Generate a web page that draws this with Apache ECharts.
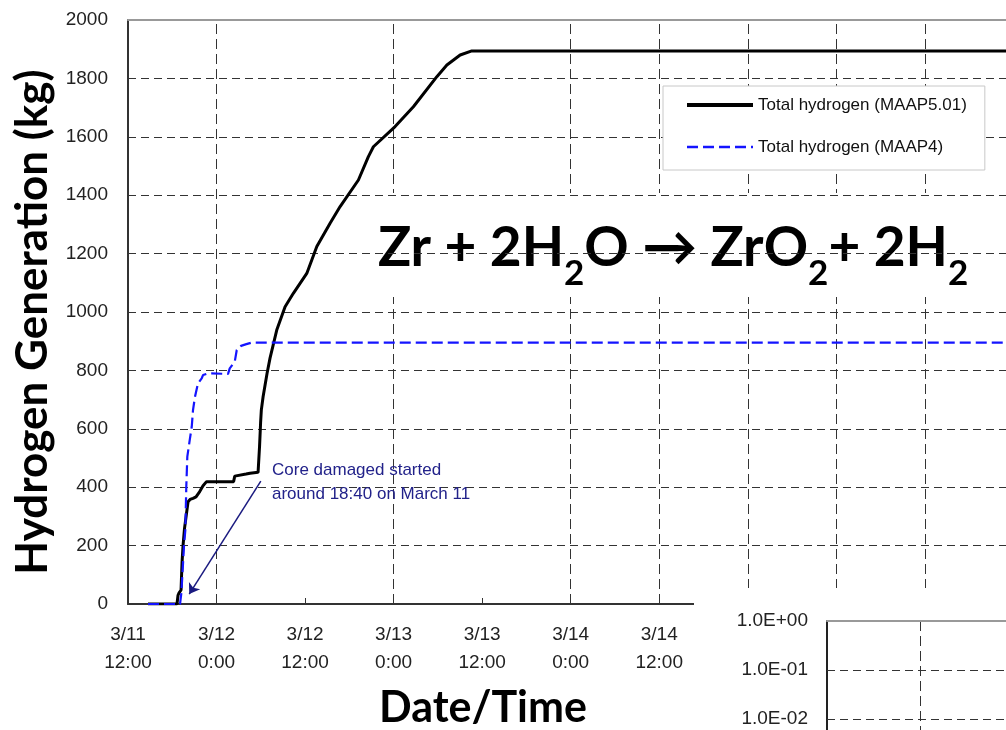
<!DOCTYPE html>
<html><head><meta charset="utf-8">
<script src="https://cdn.jsdelivr.net/npm/echarts@6/dist/echarts.min.js"></script>
<style>html,body{margin:0;padding:0;background:#fff}#c{width:1006px;height:730px}</style>
</head><body><div id="c"></div>
<script>
// ---- data (hours after 3/11 12:00, hydrogen kg) ----
const seriesNames = ['Total hydrogen (MAAP5.01)', 'Total hydrogen (MAAP4)'];
const hoursMAAP5 = [2.71, 6.64, 6.78, 6.92, 7.19, 7.32, 7.46, 7.66, 7.86, 8.14, 8.41, 8.81, 9.22, 9.72, 10.17, 10.64, 14.31, 14.47, 14.64, 16.0, 16.54, 17.63, 17.83, 17.97, 18.07, 18.31, 18.58, 18.85, 19.25, 20.16, 21.29, 22.41, 24.23, 25.59, 27.39, 28.75, 31.23, 32.58, 33.26, 36.2, 38.68, 41.86, 43.22, 45.02, 46.6, 119];
const kgMAAP5 = [0, 0, 30, 38, 48, 140, 200, 259, 262, 350, 358, 362, 367, 385, 405, 419, 419, 438, 442, 445, 448, 451, 540, 620, 664, 710, 750, 790, 842, 938, 1018, 1064, 1132, 1224, 1304, 1361, 1452, 1532, 1566, 1635, 1703, 1806, 1846, 1880, 1894, 1894];
const hoursMAAP4 = [2.71, 7.05, 7.23, 7.46, 7.59, 7.77, 7.9, 8.04, 8.37, 8.64, 8.81, 9.08, 9.49, 9.99, 10.17, 10.85, 13.56, 13.79, 14.03, 14.47, 14.74, 15.32, 16.04, 16.72, 119];
const kgMAAP4 = [0, 0, 37, 140, 200, 253, 402, 505, 562, 607, 664, 710, 756, 773, 784, 790, 788, 807, 813, 830, 870, 884, 890, 895, 895];
const xTickLabels = ['3/11\n12:00', '3/12\n0:00', '3/12\n12:00', '3/13\n0:00', '3/13\n12:00', '3/14\n0:00', '3/14\n12:00'];
const verticalGridHours = [12, 36, 60, 72, 84, 96, 108];
const arrowFrom = [18.0, 421];
const arrowTo = [8.3, 34];
const noteText = 'Core damaged started\naround 18:40 on March 11';
const yAxisTitle = 'Hydrogen Generation (kg)';
const xAxisTitle = 'Date/Time';

const FONT = '"Liberation Sans", Arial, sans-serif';
const BOLD = 'Lato, "Open Sans", "DejaVu Sans", sans-serif';

function pairs(xs, ys) { return xs.map((x, i) => [x, ys[i]]); }
function expLabel(v) {
  const e = Math.round(Math.log10(v));
  return '1.0E' + (e < 0 ? '-' : '+') + String(Math.abs(e)).padStart(2, '0');
}

const chart = echarts.init(document.getElementById('c'));
chart.setOption({
  animation: false,
  backgroundColor: '#fff',
  grid: [
    { left: 128, top: 20, right: 0, bottom: 126, outerBoundsMode: 'none' },
    { left: 827, top: 621, right: 0, height: 147, outerBoundsMode: 'none' }
  ],
  xAxis: [
    { gridIndex: 0, type: 'value', min: 0, max: 119, interval: 12,
      axisLine: { show: true, onZero: false, lineStyle: { color: '#333', width: 2 } },
      axisTick: { show: true, inside: true, length: 6, lineStyle: { color: '#333', width: 1 } },
      axisLabel: { formatter: v => (xTickLabels[v / 12] !== undefined ? xTickLabels[v / 12] : ''),
        fontFamily: FONT, fontSize: 19, color: '#222', lineHeight: 28, margin: 17 },
      splitLine: { show: false } },
    { gridIndex: 0, type: 'value', position: 'top', min: 0, max: 119, z: 3,
      axisLine: { show: true, onZero: false, lineStyle: { color: '#999', width: 2 } },
      axisTick: { show: false }, axisLabel: { show: false }, splitLine: { show: false } },
    { gridIndex: 1, type: 'value', min: 0, max: 1.925, interval: 1, z: 110,
      axisLine: { show: false }, axisTick: { show: false }, axisLabel: { show: false },
      splitLine: { show: true, lineStyle: { type: [10, 5], color: '#333', width: 1 } } },
    { gridIndex: 1, type: 'value', position: 'top', min: 0, max: 1.925, z: 111,
      axisLine: { show: true, onZero: false, lineStyle: { color: '#999', width: 2 } },
      axisTick: { show: false }, axisLabel: { show: false }, splitLine: { show: false } }
  ],
  yAxis: [
    { gridIndex: 0, type: 'value', min: 0, max: 2000, interval: 200, z: 2,
      name: yAxisTitle, nameLocation: 'middle', nameGap: 73,
      nameTextStyle: { fontFamily: BOLD, fontWeight: 'bold', fontSize: 44, color: '#000', padding: [0, 20, 0, 0] },
      axisLine: { show: true, onZero: false, lineStyle: { color: '#333', width: 2 } },
      axisTick: { show: true, inside: true, length: 6, lineStyle: { color: '#333' } },
      axisLabel: { formatter: v => String(v), fontFamily: FONT, fontSize: 19, color: '#222', margin: 20 },
      splitLine: { show: true, lineStyle: { type: [8, 5], color: '#333', width: 1 } } },
    { gridIndex: 1, type: 'log', logBase: 10, min: 0.001, max: 1, z: 110,
      axisLine: { show: true, onZero: false, lineStyle: { color: '#222', width: 2 } },
      axisTick: { show: true, inside: true, length: 6, lineStyle: { color: '#333' } },
      axisLabel: { formatter: expLabel, fontFamily: FONT, fontSize: 19, color: '#222', margin: 19 },
      splitLine: { show: true, lineStyle: { type: [8, 5], color: '#333', width: 1 } } }
  ],
  legend: {
    data: [
      { name: seriesNames[0], lineStyle: { width: 4 } },
      { name: seriesNames[1], lineStyle: { width: 2.5, type: [11, 5] } }
    ],
    orient: 'vertical', left: 663, top: 86,
    itemWidth: 66, itemHeight: 14, itemGap: 24,
    padding: [10, 18, 14, 22],
    itemStyle: { opacity: 0 },
    backgroundColor: '#fff', borderColor: '#c8c8c8', borderWidth: 1,
    textStyle: { fontFamily: FONT, fontSize: 17, lineHeight: 18, color: '#111' }
  },
  series: [
    { name: seriesNames[0], type: 'line', xAxisIndex: 0, yAxisIndex: 0, symbol: 'none', z: 2,
      data: pairs(hoursMAAP5, kgMAAP5),
      lineStyle: { color: '#000', width: 3 }, itemStyle: { color: '#000' } },
    { name: seriesNames[1], type: 'line', xAxisIndex: 0, yAxisIndex: 0, symbol: 'none', z: 3,
      data: pairs(hoursMAAP4, kgMAAP4),
      lineStyle: { color: '#1414ff', width: 2.2, type: [11, 5] }, itemStyle: { color: '#1414ff' } },
    { type: 'line', xAxisIndex: 0, yAxisIndex: 0, data: [], symbol: 'none',
      markLine: { z: 1, silent: true, animation: false, symbol: ['none', 'none'], label: { show: false },
        lineStyle: { type: [10, 5], color: '#333', width: 1 },
        data: verticalGridHours.map(h => ({ xAxis: h })) } },
    { type: 'line', xAxisIndex: 0, yAxisIndex: 0, data: [], symbol: 'none',
      markLine: { z: 5, silent: true, animation: false, symbol: ['none', 'arrow'], symbolSize: 10,
        label: { show: false }, lineStyle: { type: 'solid', color: '#1a1a80', width: 1.5 },
        data: [[{ coord: arrowFrom }, { coord: arrowTo }]] } }
  ],
  graphic: [
    { type: 'rect', z: 100, silent: true, shape: { x: 694, y: 588, width: 320, height: 150 }, style: { fill: '#fff' } },
    { type: 'rect', z: 1.5, silent: true, shape: { x: 360, y: 193, width: 660, height: 104 }, style: { fill: '#fff' } },
    { type: 'text', z: 1.6, x: 378, y: 221, style: {
        text: '{a|Zr + 2H}{s|2}{a|O → ZrO}{s|2}{a|+ 2H}{s|2}',
        verticalAlign: 'top',
        rich: {
          a: { fontFamily: BOLD, fontWeight: 'bold', fontSize: 55, lineHeight: 60, verticalAlign: 'top', fill: '#000' },
          s: { fontFamily: BOLD, fontWeight: 'bold', fontSize: 35, lineHeight: 70, verticalAlign: 'bottom', fill: '#000' }
        } } },
    { type: 'text', z: 6, x: 272, y: 458, style: { text: noteText, fontFamily: FONT, fontSize: 17, lineHeight: 24, fill: '#22228a', verticalAlign: 'top' } },
    { type: 'text', z: 6, x: 483, y: 708, style: { text: xAxisTitle, fontFamily: BOLD, fontWeight: 'bold', fontSize: 43, fill: '#000', align: 'center', verticalAlign: 'middle' } }
  ]
});
</script></body></html>
